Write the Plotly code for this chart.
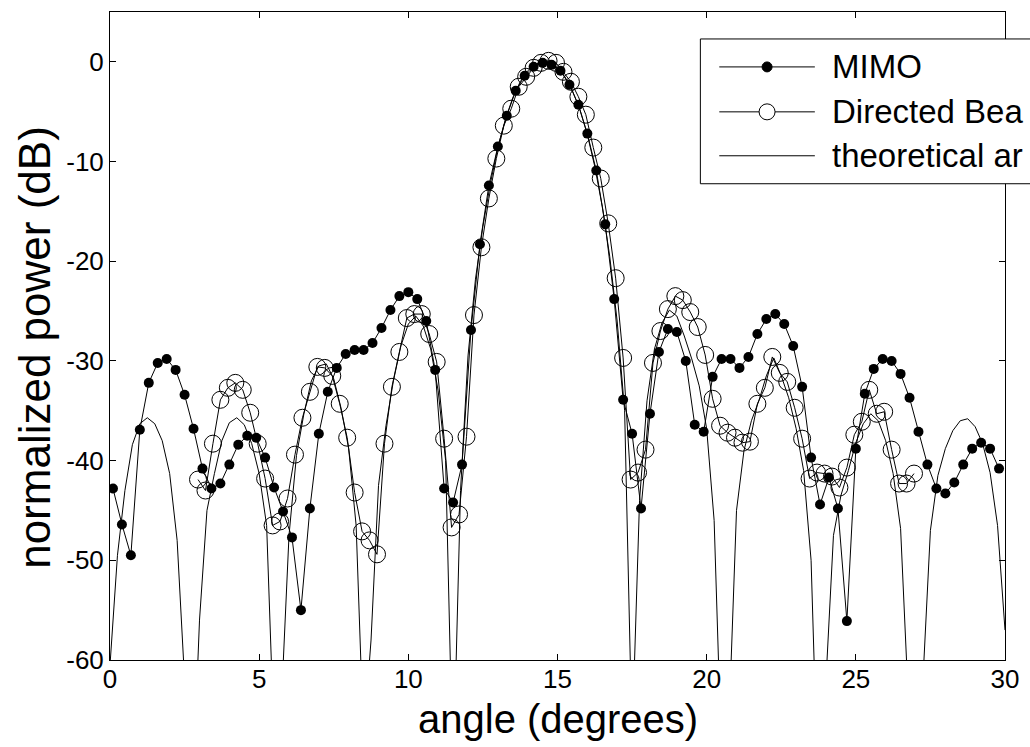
import plotly.graph_objects as go

# MIMO measurement (filled dots), angle step 0.3 deg
mimo_angle = [0.1, 0.4, 0.7, 1.0, 1.3, 1.6, 1.9, 2.2, 2.5, 2.8,
              3.1, 3.4, 3.7, 4.0, 4.3, 4.6, 4.9, 5.2, 5.5, 5.8,
              6.1, 6.4, 6.7, 7.0, 7.3, 7.6, 7.9, 8.2, 8.5, 8.8,
              9.1, 9.4, 9.7, 10.0, 10.3, 10.6, 10.9, 11.2, 11.5, 11.8,
              12.1, 12.4, 12.7, 13.0, 13.3, 13.6, 13.9, 14.2, 14.5, 14.8,
              15.1, 15.4, 15.7, 16.0, 16.3, 16.6, 16.9, 17.2, 17.5, 17.8,
              18.1, 18.4, 18.7, 19.0, 19.3, 19.6, 19.9, 20.2, 20.5, 20.8,
              21.1, 21.4, 21.7, 22.0, 22.3, 22.6, 22.9, 23.2, 23.5, 23.8,
              24.1, 24.4, 24.7, 25.0, 25.3, 25.6, 25.9, 26.2, 26.5, 26.8,
              27.1, 27.4, 27.7, 28.0, 28.3, 28.6, 28.9, 29.2, 29.5, 29.8]
mimo_db = [-42.8, -46.4, -49.5, -36.9, -32.2, -30.2, -29.8, -30.9, -33.4, -36.8,
           -40.8, -42.8, -42.3, -40.4, -38.4, -37.5, -37.7, -39.7, -42.7, -45.1,
           -47.7, -55.0, -44.8, -37.3, -33.1, -30.7, -29.3, -28.9, -28.9, -28.2,
           -26.7, -24.9, -23.5, -23.1, -23.8, -26.0, -30.9, -42.8, -44.2, -40.4,
           -26.9, -18.3, -12.4, -8.5, -5.4, -2.9, -1.4, -0.5, -0.1, -0.3,
           -0.9, -2.3, -4.3, -7.2, -10.9, -16.3, -23.8, -33.9, -37.3, -44.8,
           -35.3, -29.1, -26.8, -27.1, -30.0, -36.4, -37.1, -31.6, -29.8, -29.8,
           -30.7, -29.6, -27.3, -25.8, -25.3, -26.3, -28.5, -32.6, -39.7, -44.4,
           -41.7, -44.8, -56.1, -38.8, -33.3, -30.8, -29.8, -30.0, -31.3, -33.7,
           -37.1, -40.4, -42.8, -43.3, -42.2, -40.4, -38.8, -38.2, -38.8, -40.8]

# Directed Beam measurement (open circles), angle step 0.25 deg
beam_angle = [2.95, 3.2, 3.45, 3.7, 3.95, 4.2, 4.45, 4.7, 4.95, 5.2,
              5.45, 5.7, 5.95, 6.2, 6.45, 6.7, 6.95, 7.2, 7.45, 7.7,
              7.95, 8.2, 8.45, 8.7, 8.95, 9.2, 9.45, 9.7, 9.95, 10.2,
              10.45, 10.7, 10.95, 11.2, 11.45, 11.7, 11.95, 12.2, 12.45, 12.7,
              12.95, 13.2, 13.45, 13.7, 13.95, 14.2, 14.45, 14.7, 14.95, 15.2,
              15.45, 15.7, 15.95, 16.2, 16.45, 16.7, 16.95, 17.2, 17.45, 17.7,
              17.95, 18.2, 18.45, 18.7, 18.95, 19.2, 19.45, 19.7, 19.95, 20.2,
              20.45, 20.7, 20.95, 21.2, 21.45, 21.7, 21.95, 22.2, 22.45, 22.7,
              22.95, 23.2, 23.45, 23.7, 23.95, 24.2, 24.45, 24.7, 24.95, 25.2,
              25.45, 25.7, 25.95, 26.2, 26.45, 26.7, 26.95]
beam_db = [-41.9, -43.0, -38.3, -33.9, -32.7, -32.2, -32.9, -35.2, -38.3, -41.8,
           -46.5, -46.1, -43.8, -39.4, -35.7, -33.1, -30.6, -30.7, -31.5, -34.3,
           -37.7, -43.2, -47.1, -48.0, -49.4, -38.3, -32.6, -29.1, -25.7, -25.3,
           -25.3, -27.3, -30.1, -37.8, -46.7, -45.4, -37.6, -25.4, -18.6, -13.7,
           -9.7, -6.4, -4.7, -2.5, -1.5, -0.6, -0.1, 0.1, -0.1, -1.0,
           -2.0, -3.5, -5.3, -8.6, -11.7, -16.2, -21.7, -29.7, -41.9, -41.2,
           -38.9, -30.2, -27.0, -24.8, -23.5, -23.9, -25.1, -26.6, -29.4, -33.8,
           -36.5, -37.2, -37.7, -38.2, -38.1, -34.3, -32.7, -29.6, -31.2, -32.1,
           -34.7, -37.8, -41.8, -41.2, -41.3, -41.6, -42.7, -40.7, -37.4, -36.1,
           -32.9, -35.3, -35.1, -38.9, -42.3, -42.3, -41.3]

# theoretical array factor (plain line), angle step 0.25 deg
theory_angle = [0.0, 0.25, 0.5, 0.75, 1.0, 1.25, 1.5, 1.75, 2.0, 2.25,
                2.5, 2.75, 3.0, 3.25, 3.5, 3.75, 4.0, 4.25, 4.5, 4.75,
                5.0, 5.25, 5.5, 5.75, 6.0, 6.25, 6.5, 6.75, 7.0, 7.25,
                7.5, 7.75, 8.0, 8.25, 8.5, 8.75, 9.0, 9.25, 9.5, 9.75,
                10.0, 10.25, 10.5, 10.75, 11.0, 11.25, 11.5, 11.75, 12.0, 12.25,
                12.5, 12.75, 13.0, 13.25, 13.5, 13.75, 14.0, 14.25, 14.5, 14.75,
                15.0, 15.25, 15.5, 15.75, 16.0, 16.25, 16.5, 16.75, 17.0, 17.25,
                17.5, 17.75, 18.0, 18.25, 18.5, 18.75, 19.0, 19.25, 19.5, 19.75,
                20.0, 20.25, 20.5, 20.75, 21.0, 21.25, 21.5, 21.75, 22.0, 22.25,
                22.5, 22.75, 23.0, 23.25, 23.5, 23.75, 24.0, 24.25, 24.5, 24.75,
                25.0, 25.25, 25.5, 25.75, 26.0, 26.25, 26.5, 26.75, 27.0, 27.25,
                27.5, 27.75, 28.0, 28.25, 28.5, 28.75, 29.0, 29.25, 29.5, 29.75,
                30.0]
theory_db = [-60.5, -49.5, -43.0, -38.4, -36.3, -35.7, -36.3, -38.0, -41.3, -48.0,
             -62.0, -75.0, -56.0, -45.0, -41.3, -38.0, -36.2, -35.7, -36.4, -38.3,
             -41.3, -46.5, -68.0, -64.0, -47.5, -39.5, -35.3, -32.0, -30.5, -30.3,
             -31.8, -34.8, -38.8, -46.5, -68.0, -58.0, -42.5, -36.5, -32.0, -28.5,
             -26.3, -25.5, -26.5, -28.8, -33.0, -40.0, -72.0, -43.0, -29.5, -21.8,
             -16.5, -12.2, -8.6, -5.8, -3.6, -2.0, -0.9, -0.25, 0.0, -0.1,
             -0.6, -1.5, -2.9, -4.8, -7.3, -10.5, -14.5, -19.5, -26.0, -35.0,
             -68.0, -44.0, -34.0, -28.8, -26.2, -24.9, -25.5, -27.5, -29.8, -32.5,
             -36.8, -46.0, -70.0, -66.0, -45.0, -39.0, -36.0, -34.0, -31.5, -29.7,
             -31.5, -33.7, -36.8, -41.0, -50.0, -75.0, -62.0, -47.5, -43.5, -41.0,
             -38.2, -36.3, -35.3, -36.0, -38.0, -41.3, -46.8, -62.0, -80.0, -62.0,
             -47.0, -41.5, -38.8, -37.0, -36.0, -35.8, -36.6, -38.3, -41.2, -46.5,
             -57.0]

# legend labels as far as they show before the picture's right edge
legend_labels = ["MIMO", "Directed Bea", "theoretical ar"]
x_ticks = [0, 5, 10, 15, 20, 25, 30]
y_ticks = [0, -10, -20, -30, -40, -50, -60]
y_tick_text = ["0", "-10", "-20", "-30", "-40", "-50", "-60"]

FONT = "Arial, Liberation Sans, sans-serif"
W, H = 1030, 747
L, R, T, B = 110, 21, 11, 87
PW, PH = W - L - R, H - T - B


def px_x(p):
    return (p - L) / PW


def px_y(p):
    return (H - B - p) / PH


fig = go.Figure()
fig.add_trace(go.Scatter(x=theory_angle, y=theory_db, mode="lines",
                         line=dict(color="black", width=1), showlegend=False))
fig.add_trace(go.Scatter(x=beam_angle, y=beam_db, mode="lines+markers",
                         line=dict(color="black", width=1),
                         marker=dict(symbol="circle-open", size=17, color="black",
                                     line=dict(width=1)),
                         showlegend=False))
fig.add_trace(go.Scatter(x=mimo_angle, y=mimo_db, mode="lines+markers",
                         line=dict(color="black", width=1),
                         marker=dict(symbol="circle", size=10, color="black"),
                         showlegend=False))

# hand-drawn legend, MATLAB style, running past the right edge
shapes = [dict(type="rect", xref="paper", yref="paper",
               x0=px_x(703), x1=px_x(1200), y0=px_y(183), y1=px_y(38),
               line=dict(color="black", width=1), fillcolor="white", layer="above")]
annotations = []
row_y = [66, 111, 155]
for i, name in enumerate(legend_labels):
    yy = px_y(row_y[i])
    shapes.append(dict(type="line", xref="paper", yref="paper",
                       x0=px_x(722), x1=px_x(818), y0=yy, y1=yy,
                       line=dict(color="black", width=1), layer="above"))
    annotations.append(dict(text=name, xref="paper", yref="paper", x=px_x(833), y=yy,
                            xanchor="left", yanchor="middle", showarrow=False,
                            font=dict(family=FONT, size=33, color="black")))
# legend markers
shapes.append(dict(type="circle", xref="paper", yref="paper", xsizemode="pixel",
                   ysizemode="pixel", xanchor=px_x(770), yanchor=px_y(row_y[0]),
                   x0=-5, x1=5, y0=-5, y1=5, fillcolor="black",
                   line=dict(color="black", width=1), layer="above"))
shapes.append(dict(type="circle", xref="paper", yref="paper", xsizemode="pixel",
                   ysizemode="pixel", xanchor=px_x(770), yanchor=px_y(row_y[1]),
                   x0=-8, x1=8, y0=-8, y1=8, fillcolor="white",
                   line=dict(color="black", width=1), layer="above"))

# axis titles
annotations.append(dict(text="angle (degrees)", xref="paper", yref="paper",
                        x=0.5, y=px_y(719), xanchor="center", yanchor="middle",
                        showarrow=False, font=dict(family=FONT, size=40, color="black")))
annotations.append(dict(text="normalized power (dB)", xref="paper", yref="paper",
                        x=px_x(34), y=px_y(347), xanchor="center", yanchor="middle",
                        textangle=-90, showarrow=False,
                        font=dict(family=FONT, size=44, color="black")))

axis_style = dict(showline=True, linecolor="black", linewidth=1, mirror="ticks",
                  ticks="inside", ticklen=6, tickcolor="black", showgrid=False,
                  zeroline=False, tickfont=dict(family=FONT, size=26, color="black"))

fig.update_layout(
    width=W, height=H,
    margin=dict(l=L, r=R, t=T, b=B),
    paper_bgcolor="white", plot_bgcolor="white",
    shapes=shapes, annotations=annotations,
    xaxis=dict(range=[0, 30], tickvals=x_ticks, ticklabelstandoff=-4, **axis_style),
    yaxis=dict(range=[-60, 5], tickvals=y_ticks, ticktext=y_tick_text, **axis_style),
)

# the page body has an 8px default margin; drop it so the figure sits at 0,0
fig.write_html("out.html", config={"displayModeBar": False},
               post_script="document.body.style.margin='0';")
